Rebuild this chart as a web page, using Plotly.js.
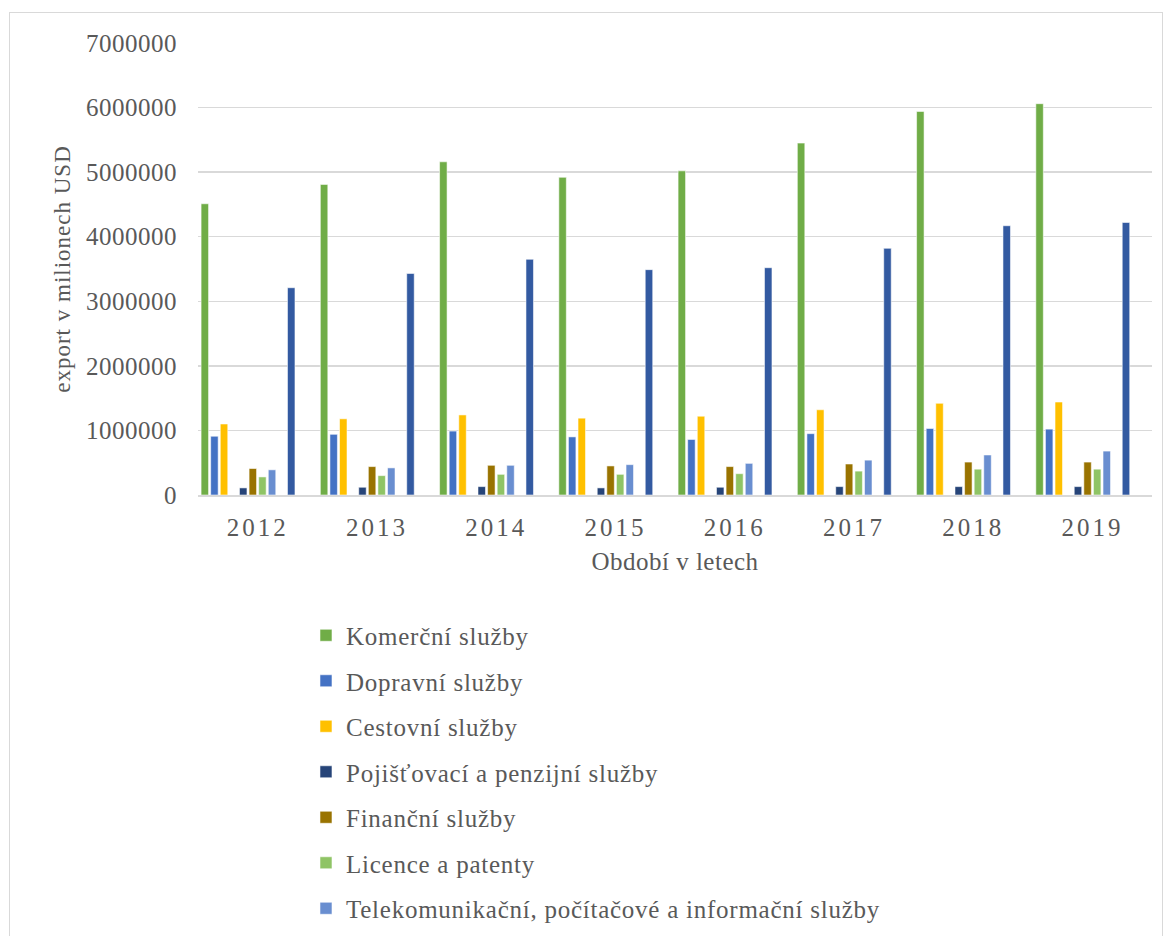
<!DOCTYPE html>
<html>
<head>
<meta charset="utf-8">
<script src="https://cdn.plot.ly/plotly-3.0.1.min.js"></script>
<style>
  html, body { margin: 0; padding: 0; background: #ffffff; }
  #chart { width: 1169px; height: 936px; }
  #frame { position: absolute; left: 9px; top: 12px; width: 1154px; height: 940px;
           border: 1.5px solid #d9d9d9; pointer-events: none; box-sizing: border-box; }
  .xtick text { letter-spacing: 3px; }
  .ytick text { letter-spacing: 0.5px; }
  .g-ytitle text { letter-spacing: 1px; }
  .g-xtitle text { letter-spacing: 0.5px; }
  .legendtext { letter-spacing: 0.75px; }
</style>
</head>
<body>
<div id="chart"></div>
<div id="frame"></div>
<script>
const years = ["2012", "2013", "2014", "2015", "2016", "2017", "2018", "2019"];

const komercni   = [4510000, 4810000, 5160000, 4920000, 5020000, 5450000, 5940000, 6060000];
const dopravni   = [910000, 940000, 990000, 900000, 860000, 950000, 1030000, 1020000];
const cestovni   = [1100000, 1180000, 1240000, 1190000, 1220000, 1320000, 1420000, 1440000];
const pojistovaci = [110000, 120000, 130000, 110000, 120000, 130000, 130000, 130000];
const financni   = [410000, 440000, 460000, 450000, 440000, 480000, 510000, 510000];
const licence    = [280000, 300000, 320000, 320000, 330000, 370000, 400000, 400000];
const telekom    = [390000, 420000, 460000, 470000, 490000, 540000, 620000, 680000];
const ostatni    = [3210000, 3430000, 3650000, 3490000, 3520000, 3820000, 4170000, 4220000];
const prazdne    = [null, null, null, null, null, null, null, null];

const seriesNames = [
  "Komerční služby", "Dopravní služby", "Cestovní služby", "",
  "Pojišťovací a penzijní služby", "Finanční služby", "Licence a patenty",
  "Telekomunikační, počítačové a informační služby", "", "Ostatní služby", "", ""
];
const seriesValues = [komercni, dopravni, cestovni, prazdne, pojistovaci, financni,
  licence, telekom, prazdne, ostatni, prazdne, prazdne];
const seriesColors = ["#70AD47", "#4472C4", "#FFC000", "#cccccc", "#264478", "#997300",
  "#8FC465", "#698ED0", "#cccccc", "#335AA1", "#cccccc", "#cccccc"];
const inLegend = [true, true, true, false, true, true, true, true, false, false, false, false];

const traces = seriesNames.map((name, i) => ({
  type: "bar",
  name: name || ("empty" + i),
  x: years,
  y: seriesValues[i],
  marker: { color: seriesColors[i], line: { color: "rgba(255,255,255,0.55)", width: 1 } },
  showlegend: inLegend[i],
  legendgroup: "g" + i,
  hoverinfo: "x+y+name"
}));

const fontFam = "Liberation Serif, Times New Roman, serif";
const grey = "#595959";

const layout = {
  width: 1169,
  height: 936,
  paper_bgcolor: "#ffffff",
  plot_bgcolor: "#ffffff",
  barmode: "group",
  bargap: 0.034,
  bargroupgap: 0.22,
  margin: { l: 198, r: 17, t: 43, b: 441, autoexpand: false },
  font: { family: fontFam, color: grey },
  xaxis: {
    type: "category",
    showgrid: false,
    showline: true,
    linecolor: "#d9d9d9",
    linewidth: 1.5,
    ticks: "",
    tickfont: { family: fontFam, size: 25, color: grey },
    ticklabelstandoff: 9,
    title: { text: "Období v letech", font: { family: fontFam, size: 25, color: grey }, standoff: 13 },
    automargin: false
  },
  yaxis: {
    range: [0, 7000000],
    tickvals: [0, 1000000, 2000000, 3000000, 4000000, 5000000, 6000000, 7000000],
    ticktext: ["0", "1000000", "2000000", "3000000", "4000000", "5000000", "6000000", "7000000"],
    showgrid: true,
    gridcolor: "#d9d9d9",
    gridwidth: 1.5,
    zeroline: false,
    showline: false,
    ticks: "",
    tickfont: { family: fontFam, size: 25, color: grey },
    ticklabelstandoff: 20,
    title: { text: "export v milionech USD", font: { family: fontFam, size: 23, color: grey }, standoff: 8 },
    automargin: false
  },
  legend: {
    x: 0.1132,
    xanchor: "left",
    y: -0.2600,
    yanchor: "top",
    orientation: "v",
    traceorder: "grouped",
    tracegroupgap: 10,
    font: { family: fontFam, size: 25, color: grey },
    bgcolor: "rgba(0,0,0,0)"
  },
  showlegend: true
};

Plotly.newPlot("chart", traces, layout, { displayModeBar: false, staticPlot: true });
</script>
</body>
</html>
